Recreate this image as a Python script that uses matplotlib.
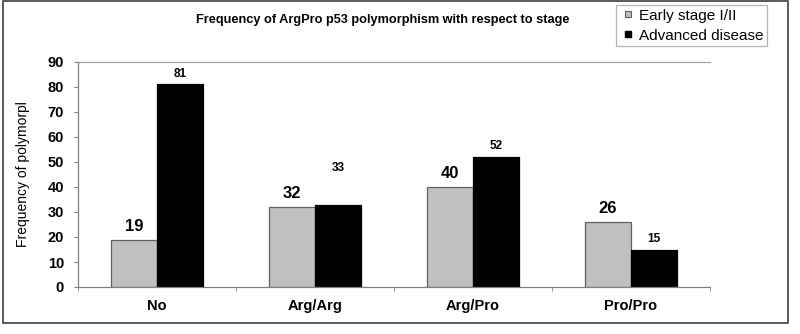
import numpy as np
import matplotlib
matplotlib.use("Agg")
import matplotlib.pyplot as plt
from matplotlib.patches import Rectangle
from matplotlib.lines import Line2D

plt.rcParams['font.family'] = ['Liberation Sans', 'DejaVu Sans']

# data
categories = ["No", "Arg/Arg", "Arg/Pro", "Pro/Pro"]
early_stage = [19, 32, 40, 26]
advanced = [81, 33, 52, 15]
y_ticks = [0, 10, 20, 30, 40, 50, 60, 70, 80, 90]

# label offsets in points above each bar (as placed in the original)
early_offsets = [9.4, 9.4, 9.4, 9.4]
adv_offsets = [7.9, 26.6, 7.9, 7.5]

fig = plt.figure(figsize=(8, 3.34), dpi=100)
ax = fig.add_axes([78 / 800, 1 - 287 / 334, 632 / 800, 225 / 334])

x = np.arange(len(categories))
width = 0.29

b1 = ax.bar(x - width / 2, early_stage, width, color="#c0c0c0",
            edgecolor="#606060", linewidth=0.9)
b2 = ax.bar(x + width / 2, advanced, width, color="black",
            edgecolor="black", linewidth=0.9)

for rect, off in zip(b1, early_offsets):
    ax.annotate(f"{rect.get_height():.0f}",
                (rect.get_x() + rect.get_width() / 2, rect.get_height()),
                xytext=(0, off), textcoords="offset points",
                ha="center", va="center", fontsize=12, fontweight="bold")
for rect, off in zip(b2, adv_offsets):
    ax.annotate(f"{rect.get_height():.0f}",
                (rect.get_x() + rect.get_width() / 2, rect.get_height()),
                xytext=(0, off), textcoords="offset points",
                ha="center", va="center", fontsize=8.5, fontweight="bold")

ax.set_xlim(-0.5, len(categories) - 0.5)
ax.set_ylim(0, 90)
ax.set_yticks(y_ticks)
ax.set_xticks(x)
ax.set_xticklabels(categories, fontsize=10.5, fontweight="bold")
ax.set_xticks(np.arange(len(categories) + 1) - 0.5, minor=True)
ax.tick_params(axis="x", which="major", length=0, pad=8.5)
ax.tick_params(axis="x", which="minor", length=3, color="#808080")
ax.tick_params(axis="y", length=3, color="#808080", pad=7, labelsize=10.5)
for lbl in ax.get_yticklabels():
    lbl.set_fontweight("bold")

for side in ["left", "bottom"]:
    ax.spines[side].set_color("#808080")
    ax.spines[side].set_linewidth(0.9)
ax.spines["top"].set_color("#a0a0a0")
ax.spines["top"].set_linewidth(0.9)
ax.spines["right"].set_visible(False)

ax.set_ylabel("Frequency of polymorpl", fontsize=10)
ax.yaxis.set_label_coords((23 - 78) / 632, 0.5)
ax.yaxis.label.set_verticalalignment("center")

fig.text(383 / 800, 1 - 20 / 334, "Frequency of ArgPro p53 polymorphism with respect to stage",
         ha="center", va="center", fontsize=9.2, fontweight="bold")

handles = [
    Line2D([], [], linestyle="none", marker="s", markersize=5,
           markerfacecolor="#c0c0c0", markeredgecolor="#606060", markeredgewidth=0.8),
    Line2D([], [], linestyle="none", marker="s", markersize=5,
           markerfacecolor="black", markeredgecolor="black"),
]
leg = fig.legend(handles, ["Early stage I/II", "Advanced disease"], loc="upper left",
                 bbox_to_anchor=(616 / 800, 1 - 5 / 334), fontsize=11,
                 frameon=True, fancybox=False, handlelength=1.1,
                 handletextpad=0.15, borderpad=0.25, labelspacing=0.38,
                 borderaxespad=0)
leg.get_frame().set_edgecolor("#a0a0a0")
leg.get_frame().set_linewidth(0.9)

fig.patches.append(Rectangle((3 / 800, 1 - 323 / 334), 785 / 800, 322 / 334,
                             transform=fig.transFigure, fill=False,
                             edgecolor="#404040", linewidth=1.2))

fig.savefig("out.png", dpi=100)
